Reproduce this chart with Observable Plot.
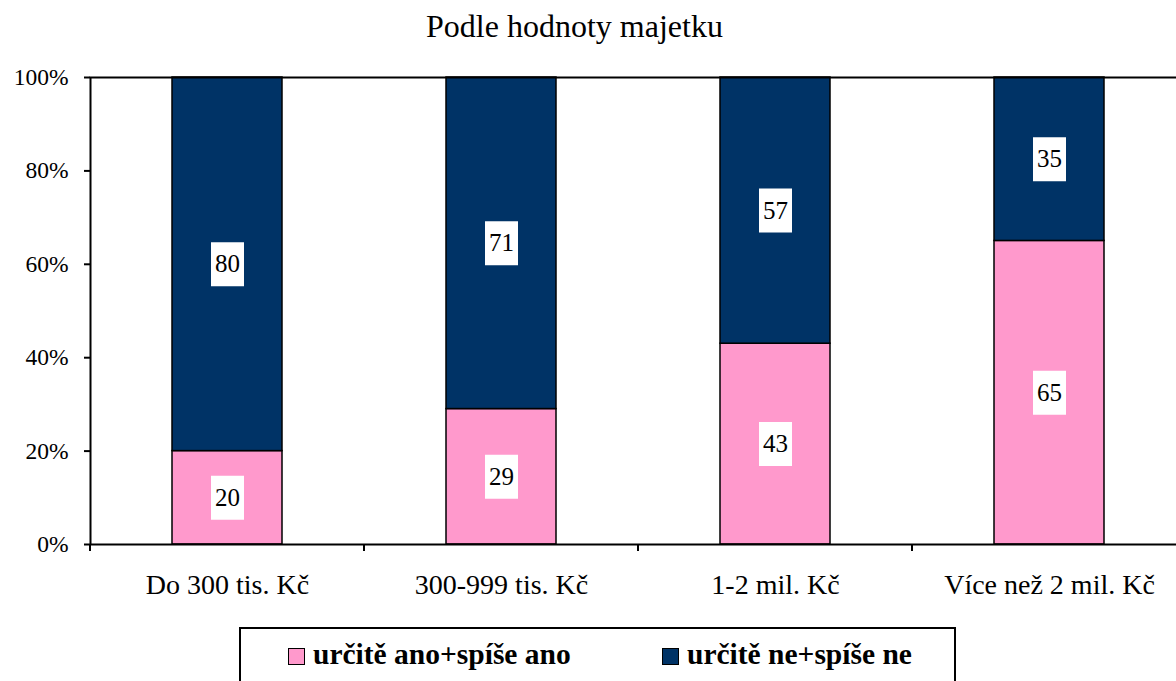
<!DOCTYPE html>
<html>
<head>
<meta charset="utf-8">
<script src="https://cdn.jsdelivr.net/npm/d3@7"></script>
<script src="https://cdn.jsdelivr.net/npm/@observablehq/plot@0.6"></script>
<style>
  html, body { margin: 0; padding: 0; background: #fff; overflow: hidden; }
  #wrap { position: relative; width: 1176px; height: 681px; overflow: hidden;
          font-family: "Liberation Serif", "Times New Roman", serif; color: #000; background: #fff; }
  #title { position: absolute; top: 10px; left: 0; width: 1149px; text-align: center;
           font-size: 32px; line-height: 32px; white-space: nowrap; }
  #chart { position: absolute; top: 0; left: 0; }
  #legend { position: absolute; left: 239px; top: 627px; width: 717px; height: 80px;
            border: 2px solid #000; box-sizing: border-box; background: #fff; }
  .sw { position: absolute; top: 19px; width: 17px; height: 17px; box-sizing: border-box;
        border: 1.5px solid #000; }
  .lt { position: absolute; top: 11px; font-size: 29.5px; line-height: 29.5px; font-weight: bold;
        white-space: nowrap; }
</style>
</head>
<body>
<div id="wrap">
  <div id="chart"></div>
  <div id="title"></div>
  <div id="legend"></div>
</div>
<script>
const titleText = "Podle hodnoty majetku";
const categories = ["Do 300 tis. Kč", "300-999 tis. Kč", "1-2 mil. Kč", "Více než 2 mil. Kč"];
const seriesNames = ["určitě ano+spíše ano", "určitě ne+spíše ne"];
const anoValues = [20, 29, 43, 65];
const neValues = [80, 71, 57, 35];
const yTicks = [0, 20, 40, 60, 80, 100];
const seriesColors = ["#FF99CC", "#003366"];

const rows = [];
categories.forEach((c, i) => {
  const a = anoValues[i], n = neValues[i];
  rows.push({cat: c, series: seriesNames[0], value: a, y1: 0, y2: a});
  rows.push({cat: c, series: seriesNames[1], value: n, y1: a, y2: a + n});
});
rows.forEach(r => { r.mid = (r.y1 + r.y2) / 2; });

const labelBox = { draw(ctx) { ctx.rect(-16.5, -22, 33, 44); } };

const chart = Plot.plot({
  width: 1176,
  height: 610,
  marginLeft: 90,
  marginTop: 77,
  marginBottom: 66,
  marginRight: -10,
  style: {
    fontFamily: '"Liberation Serif", "Times New Roman", serif',
    fontSize: "23px",
    color: "black",
    background: "white"
  },
  x: {domain: categories, paddingInner: 0.6, paddingOuter: 0.3, align: 0.5, label: null, axis: null},
  y: {domain: [0, 100], label: null, axis: null},
  color: {domain: seriesNames, range: seriesColors},
  marks: [
    Plot.barY(rows, {x: "cat", y1: "y1", y2: "y2", fill: "series", stroke: "black", strokeWidth: 1.5}),
    Plot.dot(rows, {x: "cat", y: "mid", symbol: labelBox, r: 10, fill: "white", stroke: "none"}),
    Plot.text(rows, {x: "cat", y: "mid", text: "value", fontSize: 25, fill: "black"}),
    Plot.frame({stroke: "black", strokeWidth: 2}),
    Plot.axisY({ticks: yTicks, tickFormat: d => d + "%", tickSize: 6, tickPadding: 16,
                fontSize: 23.5, strokeWidth: 2, label: null}),
    Plot.axisX({tickSize: 0, tickPadding: 30, fontSize: 28, label: null})
  ]
});

// category boundary tick marks derived from the band scale
const sx = chart.scale("x");
const sy = chart.scale("y");
const xFn = d3.scaleBand().domain(sx.domain).range(sx.range)
  .paddingInner(sx.paddingInner ?? 0.6).paddingOuter(sx.paddingOuter ?? 0.3).align(sx.align ?? 0.5);
const step = xFn.step(), bw = xFn.bandwidth();
const yBase = Math.max(...sy.range);
const g = d3.select(chart).append("g");
categories.forEach(c => {
  const xb = xFn(c) - (step - bw) / 2;
  g.append("line").attr("x1", xb).attr("x2", xb).attr("y1", yBase).attr("y2", yBase + 7)
    .attr("stroke", "black").attr("stroke-width", 2);
});

document.getElementById("chart").appendChild(chart);
document.getElementById("title").textContent = titleText;

const legend = document.getElementById("legend");
const swLeft = [47, 421], txtLeft = [72, 446];
seriesNames.forEach((name, i) => {
  const sw = document.createElement("div");
  sw.className = "sw";
  sw.style.left = swLeft[i] + "px";
  sw.style.background = seriesColors[i];
  legend.appendChild(sw);
  const t = document.createElement("div");
  t.className = "lt";
  t.style.left = txtLeft[i] + "px";
  t.textContent = name;
  legend.appendChild(t);
});
</script>
</body>
</html>
